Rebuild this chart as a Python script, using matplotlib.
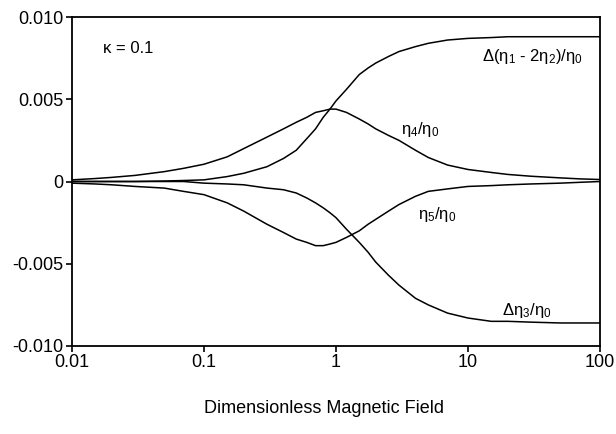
import matplotlib
matplotlib.use("Agg")
import matplotlib.pyplot as plt
from matplotlib.ticker import FixedLocator, FixedFormatter, NullLocator

plt.rcParams['font.family'] = ['Liberation Sans', 'DejaVu Sans']
plt.rcParams['mathtext.fontset'] = 'custom'
plt.rcParams['mathtext.rm'] = 'Liberation Sans'
plt.rcParams['mathtext.it'] = 'Liberation Sans'
plt.rcParams['mathtext.default'] = 'regular'

# Dimensionless magnetic field values (shared x grid)
field = [0.01, 0.015, 0.02, 0.03, 0.05, 0.07, 0.1, 0.15, 0.2, 0.3, 0.4, 0.5, 0.6, 0.7, 0.8,
         0.9, 1.0, 1.2, 1.5, 1.75, 2, 2.5, 3, 4, 5, 7, 10, 15, 20, 30, 50, 70, 100]

eta4 = [0.0001, 0.00018, 0.00025, 0.00037, 0.0006, 0.0008, 0.00105, 0.0015, 0.0020, 0.0027,
        0.0032, 0.0036, 0.0039, 0.0042, 0.0043, 0.0044, 0.0044, 0.0042, 0.0038, 0.0035,
        0.0032, 0.0028, 0.0025, 0.0019, 0.00146, 0.0010, 0.00073, 0.00055, 0.00043, 0.00032,
        0.00022, 0.00016, 0.00012]
eta5 = [-0.0001, -0.00015, -0.0002, -0.0003, -0.0004, -0.0006, -0.0008, -0.0013, -0.0018, -0.0026,
        -0.0031, -0.0035, -0.0037, -0.0039, -0.0039, -0.0038, -0.0037, -0.0034, -0.0030, -0.0026,
        -0.0023, -0.0018, -0.0014, -0.0009, -0.0006, -0.00045, -0.0003, -0.00025, -0.0002, -0.00015,
        -0.0001, -0.00005, 0.0]
d_eta12 = [0.0, 0.0, 0.0, 0.0, 0.00003, 0.00006, 0.0001, 0.0003, 0.0005, 0.0009,
           0.0014, 0.0019, 0.0026, 0.0032, 0.0039, 0.0044, 0.0049, 0.0056, 0.0065, 0.0069,
           0.0072, 0.0076, 0.0079, 0.0082, 0.0084, 0.0086, 0.0087, 0.00875, 0.0088, 0.0088,
           0.0088, 0.0088, 0.0088]
d_eta3 = [0.0, 0.0, 0.0, 0.0, 0.0, 0.0, -0.0001, -0.00015, -0.0002, -0.0004,
          -0.0005, -0.0007, -0.0010, -0.0013, -0.0016, -0.0019, -0.0022, -0.0029, -0.0037, -0.0043,
          -0.0049, -0.0057, -0.0063, -0.0071, -0.0075, -0.0080, -0.0083, -0.0085, -0.0085, -0.00855,
          -0.0086, -0.0086, -0.0086]

xticks = [0.01, 0.1, 1, 10, 100]
xticklabels = ['0.01', '0.1', '1', '10', '100']
yticks = [-0.010, -0.005, 0, 0.005, 0.010]
yticklabels = ['-0.010', '-0.005', '0', '0.005', '0.010']

fig = plt.figure(figsize=(6.16, 4.34), dpi=100)
ax = fig.add_axes([72/616, 88/434, 528/616, 329/434])

for series in (eta4, eta5, d_eta12, d_eta3):
    ax.plot(field, series, color='black', lw=1.1)

ax.set_xscale('log')
ax.set_xlim(0.01, 100)
ax.set_ylim(-0.010, 0.010)
ax.xaxis.set_major_locator(FixedLocator(xticks))
ax.xaxis.set_major_formatter(FixedFormatter(xticklabels))
ax.xaxis.set_minor_locator(NullLocator())
ax.yaxis.set_major_locator(FixedLocator(yticks))
ax.yaxis.set_major_formatter(FixedFormatter(yticklabels))
ax.tick_params(direction='out', length=4, width=1.2, labelsize=13, top=False, right=False, pad=2)
for s in ax.spines.values():
    s.set_linewidth(1.3)

ax.set_xlabel('Dimensionless Magnetic Field', fontsize=13)
ax.xaxis.set_label_coords(0.477, -0.165)

ax.text(0.0172, 0.00784, 'κ = 0.1', fontsize=12, ha='left', va='baseline')
ax.text(12.8, 0.0073, r'Δ(η$_1$ - 2η$_2$)/η$_0$', fontsize=12, ha='left', va='baseline')
ax.text(3.1, 0.0029, r'η$_4$/η$_0$', fontsize=12, ha='left', va='baseline')
ax.text(4.18, -0.00225, r'η$_5$/η$_0$', fontsize=12, ha='left', va='baseline')
ax.text(18.1, -0.0081, r'Δη$_3$/η$_0$', fontsize=12, ha='left', va='baseline')

fig.savefig('out.png', dpi=100)
